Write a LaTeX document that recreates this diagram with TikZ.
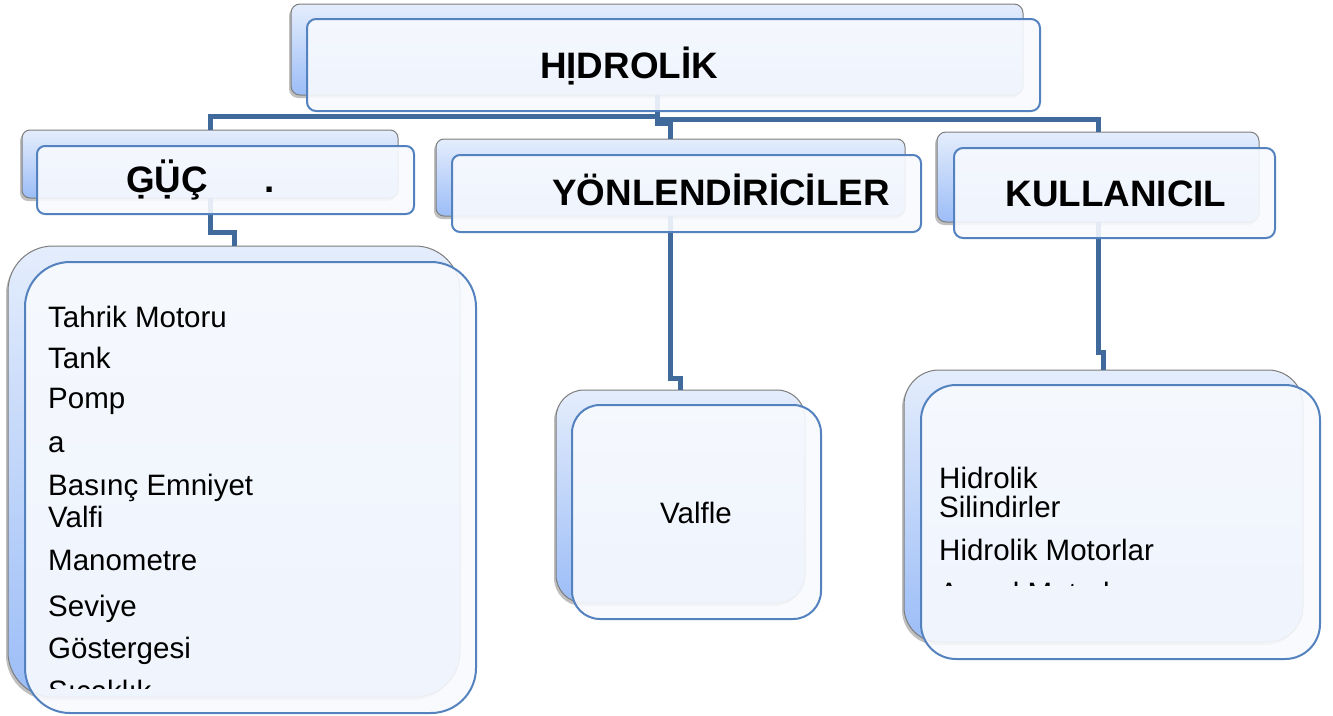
\documentclass[tikz,border=0pt]{standalone}
\usepackage{fontspec}
\setmainfont{Liberation Sans}
\usetikzlibrary{shadows}
\definecolor{bkTop}{RGB}{228,237,252}
\definecolor{bkBot}{RGB}{156,189,247}
\definecolor{bkLine}{RGB}{125,125,125}
\definecolor{frLine}{RGB}{84,130,190}
\definecolor{frFill}{RGB}{248,250,254}
\definecolor{cnLine}{RGB}{63,106,155}
\newcommand\bx[7]{%
  \node[#2, rounded corners=#7pt, minimum width={(#5-#3)*1pt}, minimum height={(#6-#4)*1pt}]
    (#1) at ({(#3+#5)/2},{(#4+#6)/2}) {};}
\tikzset{
  backbox/.style={draw=bkLine, line width=1pt, top color=bkTop, bottom color=bkBot,
    drop shadow={shadow xshift=-2pt, shadow yshift=-3pt, opacity=0.25, fill=black},
    inner sep=0pt, outer sep=0pt},
  frontbox/.style={draw=frLine, line width=2pt, fill=frFill, fill opacity=0.9,
    inner sep=0pt, outer sep=0pt},
  conn/.style={draw=cnLine, line width=5pt},
  head/.style={font=\fontsize{36.8}{40}\selectfont\bfseries, anchor=base, inner sep=0pt},
  item/.style={font=\fontsize{29.5}{32}\selectfont, anchor=base west, inner sep=0pt},
  itemc/.style={font=\fontsize{29.5}{32}\selectfont, anchor=base, inner sep=0pt},
}
\begin{document}
\begin{tikzpicture}[x=1pt,y=-1pt]
\useasboundingbox (0,0) rectangle (1333,715);
% back boxes
\bx{hb}{backbox}{291}{4}{1023}{95}{9}
\bx{gb}{backbox}{22}{130}{398}{198}{8}
\bx{yb}{backbox}{436}{139}{905}{216}{8}
\bx{kb}{backbox}{937}{132}{1259}{222}{9}
\bx{lb}{backbox}{8}{246}{460}{697}{45}
\bx{vb}{backbox}{556}{390}{805}{603}{28}
\bx{rb}{backbox}{904}{370}{1303}{642}{35}
% connectors
\draw[conn] (hb.south) -- ++(0,21) -| (gb.north);
\draw[conn] (hb.south) -- ++(0,28) -| (yb.north);
\draw[conn] (hb.south) -- ++(0,24) -| (kb.north);
\draw[conn] (gb.south) -- ++(0,34) -| (lb.north);
\draw[conn] (yb.south) -- ++(0,162) -| (vb.north);
\draw[conn] (kb.south) -- ++(0,130) -| (rb.north);
% front boxes
\bx{hf}{frontbox}{307}{19}{1040}{111}{9}
\bx{gf}{frontbox}{37}{146}{414}{214}{8}
\bx{yf}{frontbox}{452}{155}{921}{232}{8}
\bx{kf}{frontbox}{954}{148}{1275}{238}{9}
\bx{lf}{frontbox}{25}{262}{476}{713}{45}
\bx{vf}{frontbox}{572}{405}{821}{619}{28}
\bx{rf}{frontbox}{921}{385}{1320}{659}{35}
% headings
\node[head] (ht) at (629,78) {HỊDROLİK};
\node[head] (gt) at (167,192) {G̣Ụ̈Ç};
\node[head] (gdot) at (270,192) {.};
\node[head] (yt) at (721,205) {YÖNLENDİRİCİLER};
\node[head] (kt) at (1116,206) {KULLANICIL};
% left list
\node[item] (l1) at (48,327) {Tahrik Motoru};
\node[item] (l2) at (48,368) {Tank};
\node[item] (l3) at (48,408) {Pomp};
\node[item] (l4) at (48,452) {a};
\node[item] (l5) at (48,495) {Basınç Emniyet};
\node[item] (l6) at (48,527) {Valfi};
\node[item] (l7) at (48,570) {Manometre};
\node[item] (l8) at (48,616) {Seviye};
\node[item] (l9) at (48,658) {Göstergesi};
\begin{scope}
\clip (0,0) rectangle (1333,688);
\node[item] (l10) at (48,701) {Sıcaklık};
\end{scope}
% middle
\node[itemc] (vt) at (696,523) {Valfle};
% right list
\node[item] (r1) at (939,488) {Hidrolik};
\node[item] (r2) at (939,517) {Silindirler};
\node[item] (r3) at (939,560) {Hidrolik Motorlar};
\begin{scope}
\clip (0,0) rectangle (1333,585);
\node[item] (r4) at (939,603) {Açısal Motorlar};
\end{scope}
\end{tikzpicture}
\end{document}
